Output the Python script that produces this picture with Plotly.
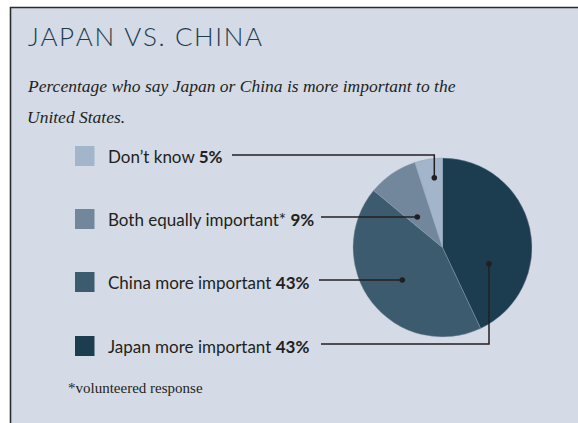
import plotly.graph_objects as go

# Survey shares
categories = ["Japan more important", "China more important", "Both equally important*", "Don\u2019t know"]
values = [43, 43, 9, 5]
colors = ["#1c3d50", "#3d5b6e", "#72879b", "#a3b5ca"]

W, H = 578, 423
BG = "#d4dbe6"
INK = "#231f20"
TITLE_INK = "#1c3d4f"
SANS = "Lato, 'Noto Sans', sans-serif"
SERIF = "'Liberation Serif', 'DejaVu Serif', serif"

# pie geometry (pixels)
cx, cy, r = 442.5, 247.5, 89.5

# legend rows, listed top to bottom (reverse of the slice order)
legend_rows = [3, 2, 1, 0]
row_y = [156, 219, 282, 346]

# leader line paths (pixels) for each legend row, top to bottom
leader_paths = [
    [(232, 155), (434.3, 155), (434.3, 177.7)],
    [(321, 217), (417.3, 217)],
    [(319, 280), (402.3, 280)],
    [(321, 344), (489, 344), (489, 263.7)],
]

fig = go.Figure()

fig.add_trace(go.Pie(
    labels=categories,
    values=values,
    sort=False,
    direction="clockwise",
    rotation=0,
    marker=dict(colors=colors, line=dict(color="#8ea0b4", width=0.4)),
    textinfo="none",
    hoverinfo="label+percent",
    showlegend=False,
    domain=dict(x=[(cx - r) / W, (cx + r) / W], y=[1 - (cy + r) / H, 1 - (cy - r) / H]),
))

shapes = []
# panel with border
shapes.append(dict(type="rect", xref="x", yref="y", x0=10.5, y0=7.5, x1=W + 10, y1=H + 10,
                   fillcolor=BG, line=dict(color="#2b2b2b", width=1.6), layer="below"))

annotations = []
for row, idx in enumerate(legend_rows):
    y = row_y[row]
    shapes.append(dict(type="rect", xref="x", yref="y", x0=75, x1=94.5, y0=y - 10, y1=y + 10,
                       fillcolor=colors[idx], line=dict(width=0), layer="above"))
    annotations.append(dict(
        x=106, y=y, xref="x", yref="y", xanchor="left", yanchor="middle",
        text=f"{categories[idx]} <b>{values[idx]}%</b>", showarrow=False,
        font=dict(family=SANS, size=17, color=INK),
    ))
    pts = leader_paths[row]
    path = "M " + " L ".join(f"{px} {py}" for px, py in pts)
    shapes.append(dict(type="path", xref="x", yref="y", path=path,
                       line=dict(color=INK, width=1.5), layer="above"))
    ex, ey = pts[-1]
    shapes.append(dict(type="circle", xref="x", yref="y", x0=ex - 2.8, x1=ex + 2.8,
                       y0=ey - 2.8, y1=ey + 2.8, fillcolor=INK, line=dict(width=0), layer="above"))

hair = "\u200a"
title = "JAPAN VS. CHINA"
spaced = hair.join(title)
annotations.append(dict(x=26, y=36, xref="x", yref="y", xanchor="left", yanchor="middle",
                        text=spaced, showarrow=False,
                        font=dict(family=SANS, size=26, color=TITLE_INK, weight=300)))
annotations.append(dict(x=25, y=86, xref="x", yref="y", xanchor="left", yanchor="middle",
                        text="<i>Percentage who say Japan or China is more important to the</i>",
                        showarrow=False, font=dict(family=SERIF, size=17.5, color=INK)))
annotations.append(dict(x=25, y=117, xref="x", yref="y", xanchor="left", yanchor="middle",
                        text="<i>United States.</i>",
                        showarrow=False, font=dict(family=SERIF, size=17.5, color=INK)))
annotations.append(dict(x=66, y=388, xref="x", yref="y", xanchor="left", yanchor="middle",
                        text="*volunteered response",
                        showarrow=False, font=dict(family=SERIF, size=15, color=INK)))

fig.update_layout(
    width=W, height=H,
    margin=dict(l=0, r=0, t=0, b=0),
    paper_bgcolor="white",
    plot_bgcolor="rgba(0,0,0,0)",
    xaxis=dict(range=[0, W], visible=False, fixedrange=True, domain=[0, 1]),
    yaxis=dict(range=[H, 0], visible=False, fixedrange=True, domain=[0, 1]),
    shapes=shapes,
    annotations=annotations,
    showlegend=False,
)

fig.write_html("out.html")
